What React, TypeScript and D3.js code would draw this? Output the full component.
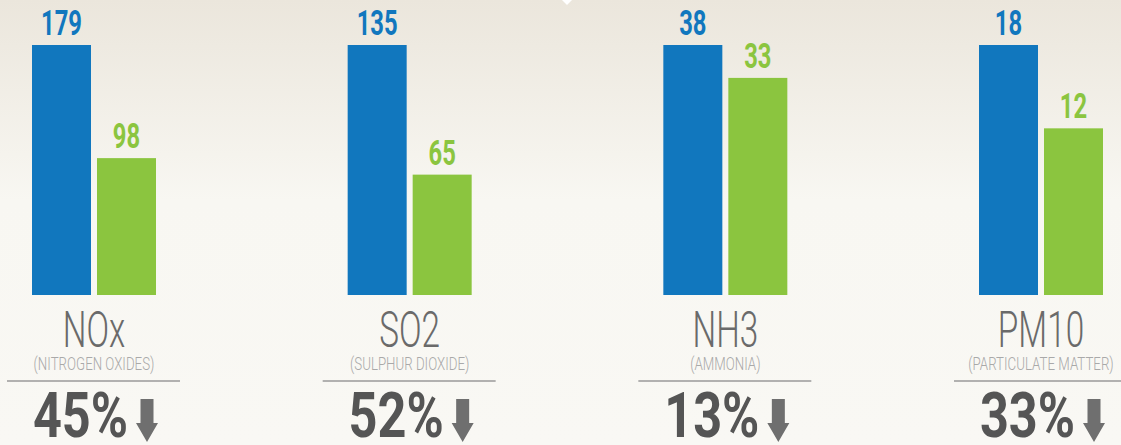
import React from 'react';
import * as d3 from 'd3';

const categories = ['NOx', 'SO2', 'NH3', 'PM10'];
const subtitles = ['(NITROGEN OXIDES)', '(SULPHUR DIOXIDE)', '(AMMONIA)', '(PARTICULATE MATTER)'];
const series = ['before', 'after'];
const beforeValues = [179, 135, 38, 18];
const afterValues = [98, 65, 33, 12];
const reductionLabels = ['45%', '52%', '13%', '33%'];

const W = 1121;
const H = 445;
const BLUE = '#1177be';
const GREEN = '#8bc53f';

export default function App() {
  const gx = d3.scalePoint<string>().domain(categories).range([94, 1041]);
  const sx = d3.scaleBand<string>().domain(series).range([-62, 62]).paddingInner(0.0923).paddingOuter(0);
  const baseY = 295;
  const topY = 45;

  return (
    <svg width={W} height={H} style={{ position: 'absolute', left: 0, top: 0, display: 'block' }}>
      <defs>
        <linearGradient id="bg" x1="0" y1="0" x2="0" y2="1">
          <stop offset="0" stopColor="#ebe6dc" />
          <stop offset="0.45" stopColor="#f8f7f2" />
          <stop offset="1" stopColor="#f9f8f4" />
        </linearGradient>
      </defs>
      <rect x={0} y={0} width={W} height={H} fill="url(#bg)" />
      <path d="M562,0 L572,0 L567,5 Z" fill="#ffffff" />
      {categories.map((c, i) => {
        const cx = gx(c)!;
        const y = d3.scaleLinear().domain([0, beforeValues[i]]).range([baseY, topY]);
        const vals = [beforeValues[i], afterValues[i]];
        const cols = [BLUE, GREEN];
        return (
          <g key={c} transform={`translate(${cx},0)`}>
            {series.map((s, j) => {
              const x0 = sx(s)!;
              const bw = sx.bandwidth();
              const yt = y(vals[j]);
              return (
                <g key={s}>
                  <rect x={x0} y={yt} width={bw} height={baseY - yt} fill={cols[j]} />
                  <text
                    transform={`translate(${x0 + bw / 2},${yt - 10}) scale(0.68,1)`}
                    textAnchor="middle"
                    fontFamily="Roboto"
                    fontWeight={700}
                    fontSize={35}
                    fill={cols[j]}
                  >
                    {vals[j]}
                  </text>
                </g>
              );
            })}
            <text
              transform={`translate(0,347) scale(0.68,1)`}
              textAnchor="middle"
              fontFamily="Roboto"
              fontWeight={300}
              fontSize={49}
              fill="#6a6a6a"
            >
              {c}
            </text>
            <text
              transform={`translate(0,370) scale(0.76,1)`}
              textAnchor="middle"
              fontFamily="Roboto"
              fontWeight={300}
              fontSize={17.5}
              fill="#a9a9a9"
            >
              {subtitles[i]}
            </text>
            <line x1={-87} x2={86} y1={381} y2={381} stroke="#9a9a9a" strokeWidth={1.5} />
            <text
              transform={`translate(34,437) scale(0.8,1)`}
              textAnchor="end"
              fontFamily="Roboto"
              fontWeight={700}
              fontSize={63}
              fill="#555555"
            >
              {reductionLabels[i]}
            </text>
            <path
              d="M46.5,399 L59.5,399 L59.5,423 L64,423 L53,442 L42,423 L46.5,423 Z"
              fill="#6f6f6f"
            />
          </g>
        );
      })}
    </svg>
  );
}
